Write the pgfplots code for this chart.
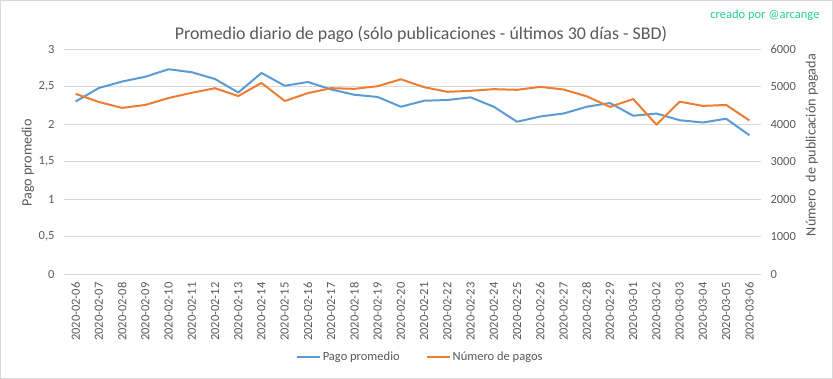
\documentclass[border=0pt]{standalone}
\usepackage{fontspec}
\setmainfont{Carlito}
\usepackage{pgfplots}
\pgfplotsset{compat=1.18}
\definecolor{exblue}{RGB}{91,155,213}
\definecolor{exorange}{RGB}{237,125,49}
\definecolor{txt}{RGB}{89,89,89}
\definecolor{gridc}{RGB}{217,217,217}
\definecolor{credit}{RGB}{40,205,150}
\pgfplotsset{
  mybase/.style={
    scale only axis, width=697pt, height=225pt,
    at={(64pt,105pt)}, anchor=south west,
    xmin=-0.5, xmax=29.5,
    axis line style={draw=none},
    major tick length=0pt,
    tick label style={font=\fontsize{12.5}{14}\selectfont, text=txt},
    /pgf/number format/assume math mode=true,
  }
}
\begin{document}
\begin{tikzpicture}
\draw[gridc, line width=0.8pt] (0.4pt,0.4pt) rectangle (832.6pt,378.6pt);
\useasboundingbox (0pt,0pt) rectangle (833pt,379pt);
\node[anchor=east, font=\fontsize{12.5}{14}\selectfont, text=credit] at (823pt,364pt) {creado por @arcange};
\node[font=\fontsize{17.9}{21}\selectfont, text=txt] at (421pt,344pt) {Promedio diario de pago (sólo publicaciones - últimos 30 días - SBD)};
\node[rotate=90, font=\fontsize{14.2}{16}\selectfont, text=txt] at (28pt,216pt) {Pago promedio};
\node[rotate=90, font=\fontsize{14.2}{16}\selectfont, text=txt] at (812pt,234pt) {Número\ \ de publicación pagada};

\begin{axis}[mybase,
  ymin=0, ymax=3, ytick={0,0.5,...,3},
  ymajorgrids, grid style={gridc, line width=0.8pt},
  yticklabel style={/pgf/number format/.cd, use comma, fixed, precision=1},
  yticklabel shift=6pt,
  xtick={0,...,29},
  xticklabels={2020-02-06,2020-02-07,2020-02-08,2020-02-09,2020-02-10,2020-02-11,2020-02-12,2020-02-13,2020-02-14,2020-02-15,2020-02-16,2020-02-17,2020-02-18,2020-02-19,2020-02-20,2020-02-21,2020-02-22,2020-02-23,2020-02-24,2020-02-25,2020-02-26,2020-02-27,2020-02-28,2020-02-29,2020-03-01,2020-03-02,2020-03-03,2020-03-04,2020-03-05,2020-03-06},
  x tick label style={rotate=90, anchor=east},
  xticklabel shift=5pt,
  legend style={at={(0.511,-0.369)}, anchor=center, draw=none, fill=none,
    font=\fontsize{12.5}{14}\selectfont, text=txt,
    /tikz/every even column/.append style={column sep=24pt},
    /tikz/every odd column/.append style={column sep=0pt}},
  legend columns=2,
  legend cell align=left,
  legend image code/.code={\draw[#1] (0pt,0pt) -- (23pt,0pt);},
]
\addplot[exblue, line width=2pt, line join=round] coordinates {
(0,2.30) (1,2.48) (2,2.566) (3,2.63) (4,2.73) (5,2.69) (6,2.60) (7,2.42) (8,2.68) (9,2.51)
(10,2.56) (11,2.46) (12,2.39) (13,2.36) (14,2.23) (15,2.31) (16,2.32) (17,2.355) (18,2.23) (19,2.03)
(20,2.10) (21,2.14) (22,2.23) (23,2.28) (24,2.11) (25,2.14) (26,2.05) (27,2.02) (28,2.07) (29,1.85)
};
\addlegendentry{Pago promedio}
\addlegendimage{exorange, line width=2pt}
\addlegendentry{Número de pagos}
\end{axis}

\begin{axis}[mybase,
  axis y line*=right, axis x line=none,
  ymin=0, ymax=6000, ytick={0,1000,...,6000},
  yticklabel style={/pgf/number format/.cd, 1000 sep={}, fixed},
  yticklabel shift=6pt,
]
\addplot[exorange, line width=2pt, line join=round] coordinates {
(0,4805) (1,4587) (2,4429) (3,4508) (4,4692) (5,4832) (6,4955) (7,4745) (8,5095) (9,4613)
(10,4824) (11,4955) (12,4937) (13,5008) (14,5192) (15,4982) (16,4858) (17,4884) (18,4929) (19,4911)
(20,4990) (21,4920) (22,4737) (23,4455) (24,4666) (25,3982) (26,4595) (27,4482) (28,4508) (29,4095)
};
\end{axis}
\end{tikzpicture}
\end{document}
